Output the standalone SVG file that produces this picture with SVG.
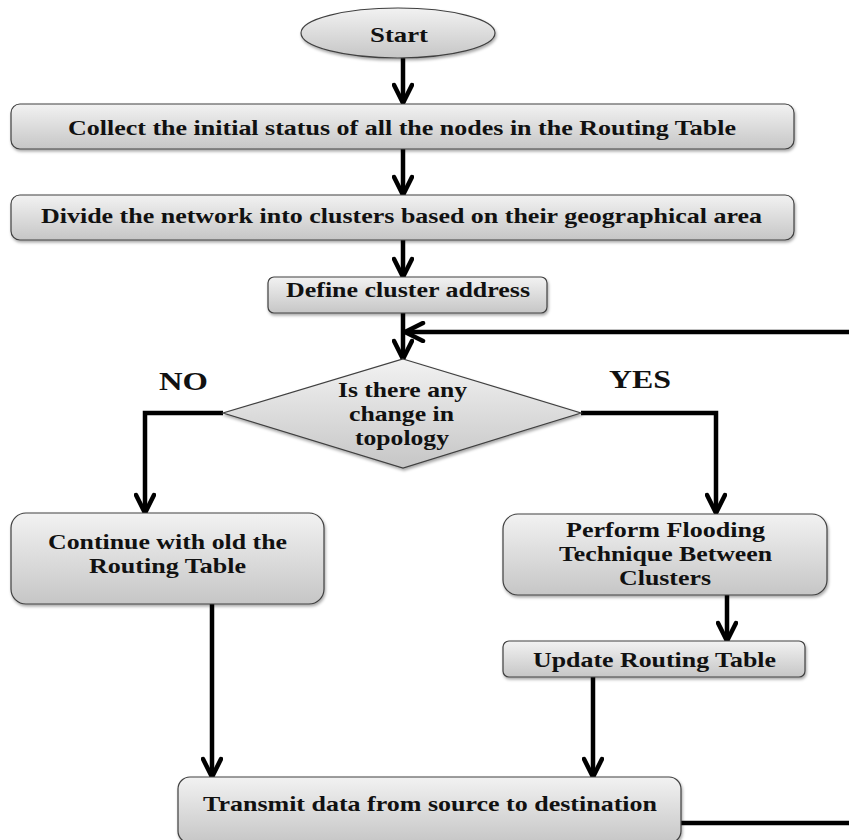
<svg xmlns="http://www.w3.org/2000/svg" width="849" height="840" viewBox="0 0 849 840">
<defs>
<linearGradient id="g" x1="0" y1="0" x2="0" y2="1">
<stop offset="0" stop-color="#f2f2f2"/>
<stop offset="1" stop-color="#c6c6c6"/>
</linearGradient>
<filter id="sh" x="-10%" y="-10%" width="120%" height="140%">
<feDropShadow dx="1" dy="2" stdDeviation="1.5" flood-color="#000" flood-opacity="0.35"/>
</filter>
<marker id="ah" viewBox="0 0 24 22" refX="21" refY="11" markerWidth="24" markerHeight="22" markerUnits="userSpaceOnUse" orient="auto">
<path d="M3,2 L21,11 L3,20" fill="none" stroke="#000" stroke-width="4.5" stroke-linecap="round" stroke-linejoin="miter"/>
</marker>
<style>
.n{fill:url(#g);stroke:#404040;stroke-width:1.2;filter:url(#sh)}
.t{font-family:"Liberation Serif","Times New Roman",serif;font-weight:bold;font-size:22px;fill:#111;text-anchor:middle;lengthAdjust:spacingAndGlyphs}
.c{fill:none;stroke:#000;stroke-width:4.5}
</style>
</defs>
<rect width="849" height="840" fill="#fff"/>
<g id="connectors">
<path class="c" d="M403,58 V103" marker-end="url(#ah)"/>
<path class="c" d="M403,149 V195" marker-end="url(#ah)"/>
<path class="c" d="M403,240 V277" marker-end="url(#ah)"/>
<path class="c" d="M403,313 V359" marker-end="url(#ah)"/>
<path class="c" d="M849,332 H405" marker-end="url(#ah)"/>
<path class="c" d="M223,413 H145 V513" marker-end="url(#ah)"/>
<path class="c" d="M581,413 H716 V513" marker-end="url(#ah)"/>
<path class="c" d="M727,595 V641" marker-end="url(#ah)"/>
<path class="c" d="M212,604 V777" marker-end="url(#ah)"/>
<path class="c" d="M593,677 V777" marker-end="url(#ah)"/>
<path class="c" d="M681,823 H849"/>
</g>
<g id="start">
<ellipse class="n" cx="398" cy="33" rx="97" ry="25"/>
<text class="t" x="399" y="42" textLength="58" lengthAdjust="spacingAndGlyphs">Start</text>
</g>
<g id="collect">
<rect class="n" x="11" y="104" width="783" height="45" rx="9"/>
<text class="t" x="402" y="135" textLength="668" lengthAdjust="spacingAndGlyphs">Collect the initial status of all the nodes in the Routing Table</text>
</g>
<g id="divide">
<rect class="n" x="11" y="195" width="783" height="45" rx="9"/>
<text class="t" x="401.5" y="223" textLength="721" lengthAdjust="spacingAndGlyphs">Divide the network into clusters based on their geographical area</text>
</g>
<g id="define">
<rect class="n" x="268" y="277" width="279" height="36" rx="6"/>
<text class="t" x="408" y="297" textLength="244" lengthAdjust="spacingAndGlyphs">Define cluster address</text>
</g>
<g id="decision">
<polygon class="n" points="403,359 581,413 403,468 223,413"/>
<text class="t" x="402.5" y="397" textLength="129" lengthAdjust="spacingAndGlyphs">Is there any</text>
<text class="t" x="401.5" y="421" textLength="105" lengthAdjust="spacingAndGlyphs">change in</text>
<text class="t" x="402" y="445" textLength="94" lengthAdjust="spacingAndGlyphs">topology</text>
</g>
<g id="labels">
<text class="t" x="183.5" y="390" style="font-size:26px" textLength="49" lengthAdjust="spacingAndGlyphs">NO</text>
<text class="t" x="640" y="388" style="font-size:26px" textLength="62" lengthAdjust="spacingAndGlyphs">YES</text>
</g>
<g id="continue">
<rect class="n" x="11" y="513" width="313" height="91" rx="15"/>
<text class="t" x="167.5" y="549" textLength="239" lengthAdjust="spacingAndGlyphs">Continue with old the</text>
<text class="t" x="167.5" y="573" textLength="157" lengthAdjust="spacingAndGlyphs">Routing Table</text>
</g>
<g id="flooding">
<rect class="n" x="503" y="514" width="324" height="81" rx="15"/>
<text class="t" x="665.5" y="537" textLength="199" lengthAdjust="spacingAndGlyphs">Perform Flooding</text>
<text class="t" x="665.5" y="561" textLength="213" lengthAdjust="spacingAndGlyphs">Technique Between</text>
<text class="t" x="665" y="585" textLength="92" lengthAdjust="spacingAndGlyphs">Clusters</text>
</g>
<g id="update">
<rect class="n" x="503" y="641" width="302" height="36" rx="6"/>
<text class="t" x="654.5" y="667" textLength="243" lengthAdjust="spacingAndGlyphs">Update Routing Table</text>
</g>
<g id="transmit">
<rect class="n" x="178" y="777" width="503" height="66" rx="12"/>
<text class="t" x="430" y="811" textLength="454" lengthAdjust="spacingAndGlyphs">Transmit data from source to destination</text>
</g>
</svg>
